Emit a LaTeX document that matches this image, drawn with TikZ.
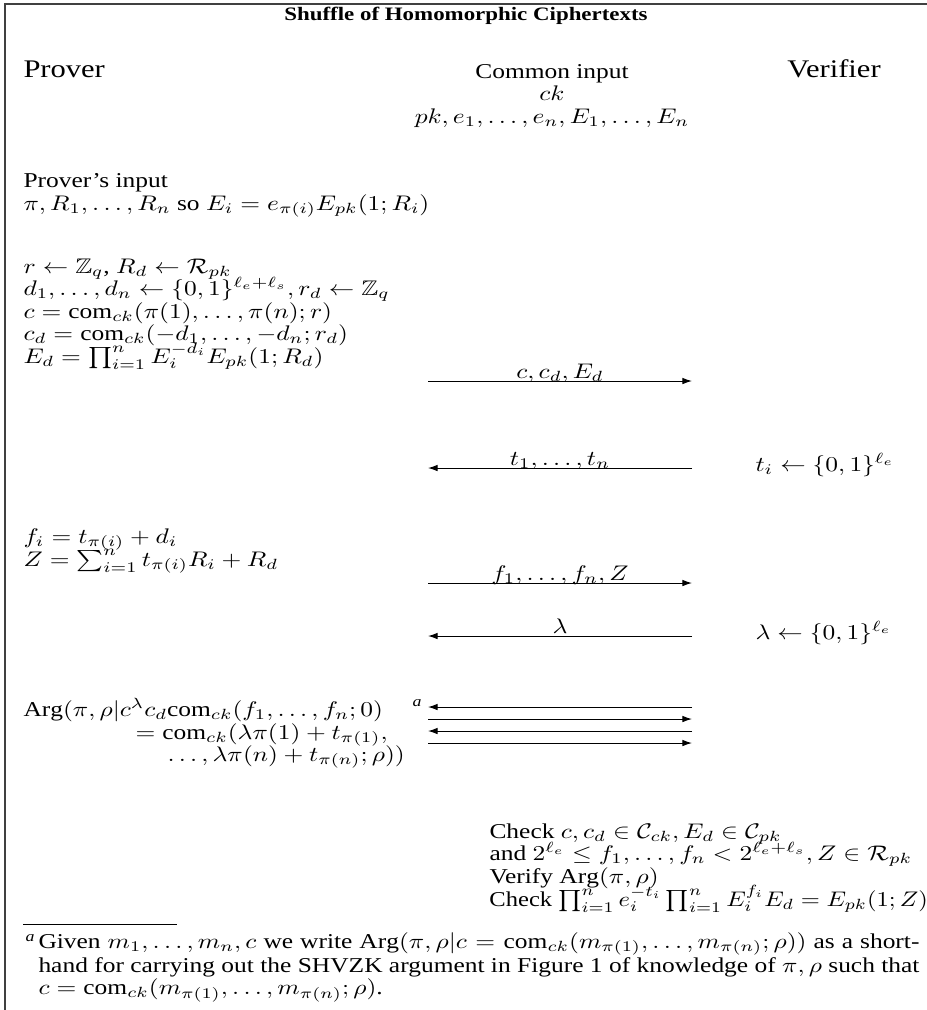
\documentclass[tikz,border=0pt]{standalone}
\usepackage{amsmath,amssymb}
\usepackage{fontspec}
\setmainfont{Liberation Serif}
\usetikzlibrary{arrows.meta}
\begin{document}
\begin{tikzpicture}[x=0.393pt,y=-0.4735pt,yscale=0.83,
  every node/.style={transform shape},
  txt/.style={inner sep=0pt,anchor=base west},
  ctr/.style={inner sep=0pt,anchor=base},
  big/.style={inner sep=0pt,font=\large},
  msg/.style={line width=0.4pt,-{Latex[length=3.8pt,width=2.6pt]}},
  lbl/.style={inner sep=0pt,anchor=base,yshift=1.1pt},
  frame/.style={line width=0.5pt,black!75}]
\useasboundingbox (0,0) rectangle (927,1010);
% frame
\coordinate (tl) at (5,4);
\coordinate (tr) at (927,4);
\coordinate (bl) at (5,1010);
\draw[frame] (tr) -- (tl) -- (bl);
% header
\node[ctr,font=\small\bfseries] (title) at (466,20) {Shuffle of Homomorphic Ciphertexts};
\node[big,anchor=base west] (prover) at (23,77) {Prover};
\node[big,anchor=base] (verifier) at (834,77) {Verifier};
\node[ctr] (ci) at (552,78) {Common input};
\node[ctr] (ck) at (552,100) {$ck$};
\node[ctr] (pk) at (552,123) {$pk,e_1,\ldots,e_n,E_1,\ldots,E_n$};
% prover's input
\node[txt] (pin) at (23,187) {Prover's input};
\node[txt] (pin2) at (23,210) {$\pi,R_1,\ldots,R_n$ so $E_i=e_{\pi(i)}E_{pk}(1;R_i)$};
% first move
\node[txt] (p1) at (23,273) {$r\leftarrow\mathbb{Z}_q$, $R_d\leftarrow\mathcal{R}_{pk}$};
\node[txt] (p2) at (23,295) {$d_1,\ldots,d_n\leftarrow\{0,1\}^{\ell_e+\ell_s},r_d\leftarrow\mathbb{Z}_q$};
\node[txt] (p3) at (23,318) {$c=\mathrm{com}_{ck}(\pi(1),\ldots,\pi(n);r)$};
\node[txt] (p4) at (23,340) {$c_d=\mathrm{com}_{ck}(-d_1,\ldots,-d_n;r_d)$};
\node[txt] (p5) at (23,363) {$E_d=\prod_{i=1}^n E_i^{-d_i}E_{pk}(1;R_d)$};
\coordinate (m1L) at (428,381);
\coordinate (m1R) at (692,381);
\draw[msg] (m1L) -- node[lbl] (l1) {$c,c_d,E_d$} (m1R);
% challenge t
\coordinate (m2L) at (428,468);
\coordinate (m2R) at (692,468);
\draw[msg] (m2R) -- node[lbl] (l2) {$t_1,\ldots,t_n$} (m2L);
\node[txt] (v1) at (755,471) {$t_i\leftarrow\{0,1\}^{\ell_e}$};
% answer f
\node[txt] (p6) at (23,543) {$f_i=t_{\pi(i)}+d_i$};
\node[txt] (p7) at (23,566) {$Z=\sum_{i=1}^n t_{\pi(i)}R_i+R_d$};
\coordinate (m3L) at (428,583);
\coordinate (m3R) at (692,583);
\draw[msg] (m3L) -- node[lbl] (l3) {$f_1,\ldots,f_n,Z$} (m3R);
% challenge lambda
\coordinate (m4L) at (428,636);
\coordinate (m4R) at (692,636);
\draw[msg] (m4R) -- node[lbl] (l4) {$\lambda$} (m4L);
\node[txt] (v2) at (755,639) {$\lambda\leftarrow\{0,1\}^{\ell_e}$};
% argument
\node[txt] (a1) at (23,716) {$\mathrm{Arg}(\pi,\rho|c^{\lambda}c_d\mathrm{com}_{ck}(f_1,\ldots,f_n;0)$};
\node[txt,font=\scriptsize\itshape] (fnm) at (412,706) {a};
\node[txt] (a2) at (135,739) {$=\mathrm{com}_{ck}(\lambda\pi(1)+t_{\pi(1)},$};
\node[txt] (a3) at (167,761) {$\ldots,\lambda\pi(n)+t_{\pi(n)};\rho))$};
\coordinate (g1L) at (428,707); \coordinate (g1R) at (692,707);
\coordinate (g2L) at (428,719); \coordinate (g2R) at (692,719);
\coordinate (g3L) at (428,731); \coordinate (g3R) at (692,731);
\coordinate (g4L) at (428,743); \coordinate (g4R) at (692,743);
\draw[msg] (g1R) -- (g1L);
\draw[msg] (g2L) -- (g2R);
\draw[msg] (g3R) -- (g3L);
\draw[msg] (g4L) -- (g4R);
% verification
\node[txt] (c1) at (489,838) {Check $c,c_d\in\mathcal{C}_{ck},E_d\in\mathcal{C}_{pk}$};
\node[txt] (c2) at (489,860) {and $2^{\ell_e}\le f_1,\ldots,f_n<2^{\ell_e+\ell_s},Z\in\mathcal{R}_{pk}$};
\node[txt] (c3) at (489,883) {Verify $\mathrm{Arg}(\pi,\rho)$};
\node[txt,xscale=0.965] (c4) at (489,906) {Check $\prod_{i=1}^n e_i^{-t_i}\prod_{i=1}^n E_i^{f_i}E_d=E_{pk}(1;Z)$};
% footnote
\coordinate (fr1) at (23,924);
\coordinate (fr2) at (177,924);
\draw[line width=0.4pt] (fr1) -- (fr2);
\node[txt,font=\scriptsize\itshape] (fnm2) at (25,941) {a};
\node[inner sep=0pt,anchor=base west,text width=881*0.393pt,align=justify,
  font=\fontsize{10}{10.42}\selectfont] (fn) at (38,948)
 {Given $m_1,\ldots,m_n,c$ we write $\mathrm{Arg}(\pi,\rho|c=\mathrm{com}_{ck}(m_{\pi(1)},\ldots,m_{\pi(n)};\rho))$ as a short-\linebreak hand for carrying out the SHVZK argument in Figure 1 of knowledge of $\pi,\rho$ such that\linebreak $c=\mathrm{com}_{ck}(m_{\pi(1)},\ldots,m_{\pi(n)};\rho)$.};
\end{tikzpicture}
\end{document}
